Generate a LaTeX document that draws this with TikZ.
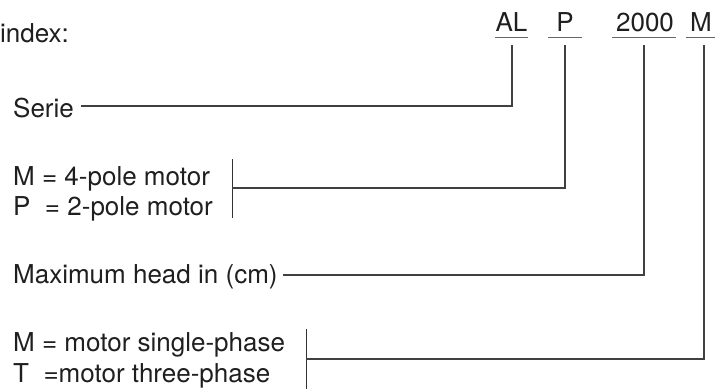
\documentclass[tikz,border=0pt]{standalone}
\usepackage{fontspec}
\setmainfont{TeX Gyre Heros}
\begin{document}
\begin{tikzpicture}[x=1pt,y=-1pt,
  lbl/.style={anchor=base west,inner sep=0pt,text=black!88,font=\fontsize{26}{30}\selectfont},
  code/.style={anchor=base,inner sep=0pt,text=black!88,font=\fontsize{26}{30}\selectfont},
  conn/.style={draw=black!75,line width=1.1pt},
  uline/.style={draw=black!60,line width=1.3pt},
  brace/.style={draw=black!80,line width=1pt}]
\useasboundingbox (0,0) rectangle (718,389);

% header
\node[lbl] (index) at (0,42) {index:};
\node[code] (AL) at (511.5,31) {AL};
\node[code] (P) at (565,31) {P};
\node[code] (N) at (645,31) {2000};
\node[code] (M) at (701,31) {M};

% underlines
\draw[uline] (495,37.5) -- (528,37.5);
\draw[uline] (548,37.5) -- (582,37.5);
\draw[uline] (612,37.5) -- (676,37.5);
\draw[uline] (686,37.5) -- (715,37.5);

% connector tops
\coordinate (ALt) at (512,45);
\coordinate (Pt) at (565,45);
\coordinate (Nt) at (644,45);
\coordinate (Mt) at (704,45);

% labels
\node[lbl] (serie) at (13,117) {Serie};
\node[lbl] (pole4) at (13,185) {M = 4-pole motor};
\node[lbl] (pole2) at (13,215) {P\ \ = 2-pole motor};
\node[lbl] (head) at (13,283) {Maximum head in (cm)};
\node[lbl] (ph1) at (13,351) {M = motor single-phase};
\node[lbl] (ph3) at (13,382) {T\ \ =motor three-phase};

% start points
\coordinate (serieS) at (81,106);
\coordinate (poleB1) at (232,159);
\coordinate (poleB2) at (232,218);
\coordinate (poleS) at (232,188);
\coordinate (headS) at (283,275);
\coordinate (phB1) at (306,329);
\coordinate (phB2) at (306,389);
\coordinate (phS) at (306,359);

% brackets
\draw[brace] (poleB1) -- (poleB2);
\draw[brace] (phB1) -- (phB2);

% connectors
\draw[conn] (serieS) -| (ALt);
\draw[conn] (poleS) -| (Pt);
\draw[conn] (headS) -| (Nt);
\draw[conn] (phS) -| (Mt);
\end{tikzpicture}
\end{document}
